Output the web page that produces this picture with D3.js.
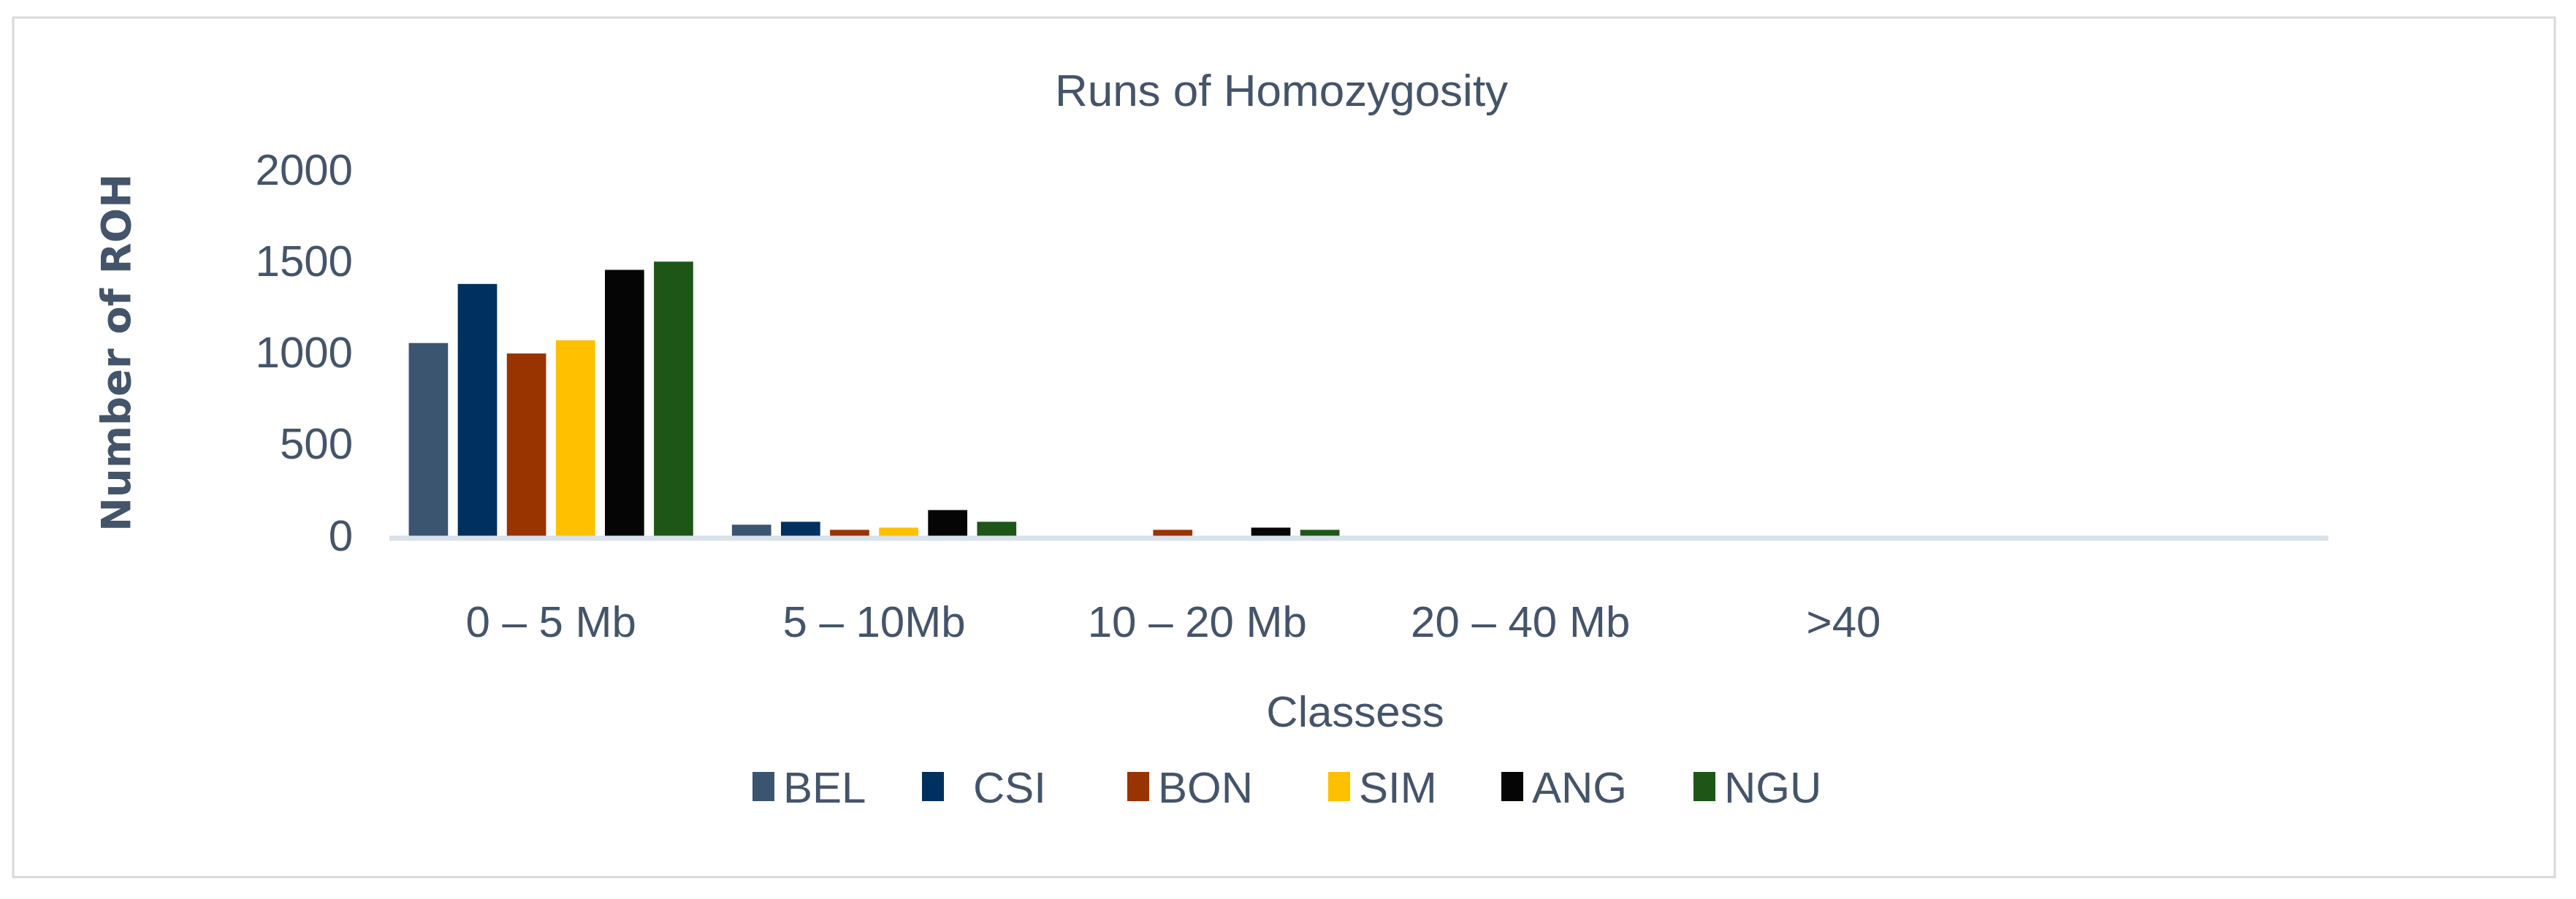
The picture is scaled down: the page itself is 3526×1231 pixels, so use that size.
<!DOCTYPE html>
<html>
<head>
<meta charset="utf-8">
<script src="https://cdn.jsdelivr.net/npm/d3@7"></script>
<style>
  body { margin: 0; background: #fff; }
  text { font-family: "Liberation Sans Narrow", "Liberation Sans", Roboto, sans-serif; fill: #44546a; }
</style>
</head>
<body>
<div id="chart"></div>
<script>
// Chart data
const classes = ["0 \u2013 5 Mb", "5 \u2013 10Mb", "10 \u2013 20 Mb", "20 \u2013 40 Mb", ">40", ""];
const breeds = ["BEL", "CSI", "BON", "SIM", "ANG", "NGU"];
const colors = ["#3b5470", "#00305f", "#993300", "#ffc000", "#050505", "#1e5618"];
const BEL = [1055, 62, 0, 0, 0, 0];
const CSI = [1378, 78, 0, 0, 0, 0];
const BON = [998, 34, 34, 0, 0, 0];
const SIM = [1070, 46, 0, 0, 0, 0];
const ANG = [1455, 142, 46, 0, 0, 0];
const NGU = [1500, 78, 34, 0, 0, 0];
const yTicks = [0, 500, 1000, 1500, 2000];

const series = [BEL, CSI, BON, SIM, ANG, NGU];
const W = 3526, H = 1231;
const margin = { left: 533, right: 339, top: 233, bottom: 497 };

const svg = d3.select("#chart").append("svg")
  .attr("width", W).attr("height", H);

// outer border
svg.append("rect")
  .attr("x", 18).attr("y", 24).attr("width", 3479).attr("height", 1177)
  .attr("fill", "none").attr("stroke", "#d9d9d9").attr("stroke-width", 3);

const x0 = d3.scaleBand().domain(d3.range(classes.length))
  .range([margin.left, W - margin.right]).paddingInner(0.12).paddingOuter(0.06);
const x1 = d3.scaleBand().domain(d3.range(breeds.length))
  .range([0, x0.bandwidth()]).paddingInner(0.2);
const y = d3.scaleLinear().domain([0, 2000]).range([734, 233]);

// bars
series.forEach((vals, s) => {
  svg.append("g").selectAll("rect")
    .data(vals.map((v, i) => ({ v, i })).filter(d => d.v > 0))
    .join("rect")
    .attr("x", d => x0(d.i) + x1(s))
    .attr("y", d => y(d.v))
    .attr("width", x1.bandwidth())
    .attr("height", d => y(0) - y(d.v))
    .attr("fill", colors[s]);
});

// baseline
svg.append("line")
  .attr("x1", margin.left).attr("x2", W - margin.right)
  .attr("y1", y(0) + 3).attr("y2", y(0) + 3)
  .attr("stroke", "#d9e1ea").attr("stroke-width", 7);

// y-axis
svg.append("g")
  .attr("transform", `translate(${margin.left - 50},0)`)
  .call(d3.axisLeft(y).tickValues(yTicks).tickFormat(d3.format("d")).tickSize(0).tickPadding(0))
  .call(g => g.select(".domain").remove())
  .selectAll("text")
  .style("font-size", "60px").attr("fill", "#44546a")
  .style("font-family", "'Liberation Sans Narrow', 'Liberation Sans', sans-serif");

// x-axis labels
svg.append("g")
  .attr("transform", `translate(0,${y(0)})`)
  .call(d3.axisBottom(x0).tickFormat(i => classes[i]).tickSize(0).tickPadding(95))
  .call(g => g.select(".domain").remove())
  .selectAll("text")
  .style("font-size", "60px").attr("fill", "#44546a")
  .style("font-family", "'Liberation Sans Narrow', 'Liberation Sans', sans-serif");

// title
svg.append("text")
  .attr("x", 1754).attr("y", 145)
  .attr("text-anchor", "middle").style("font-size", "62px")
  .text("Runs of Homozygosity");

// axis titles
svg.append("text")
  .attr("x", 1855).attr("y", 995)
  .attr("text-anchor", "middle").style("font-size", "60px")
  .text("Classess");

svg.append("text")
  .attr("transform", "translate(178,483) rotate(-90)")
  .attr("text-anchor", "middle").style("font-size", "56px")
  .style("font-weight", "bold")
  .style("font-family", "'DejaVu Sans', sans-serif")
  .text("Number of ROH");

// legend
const legendX = [1030, 1262, 1543, 1818, 2055, 2318];
const legendGap = [42, 70, 42, 42, 42, 42];
const legend = svg.append("g").selectAll("g")
  .data(breeds)
  .join("g")
  .attr("transform", (d, i) => `translate(${legendX[i]},1079)`);
legend.append("rect")
  .attr("x", 0).attr("y", -22).attr("width", 30).attr("height", 40)
  .attr("fill", (d, i) => colors[i]);
legend.append("text")
  .attr("x", (d, i) => legendGap[i]).attr("y", 20)
  .style("font-size", "60px")
  .text(d => d);
</script>
</body>
</html>
